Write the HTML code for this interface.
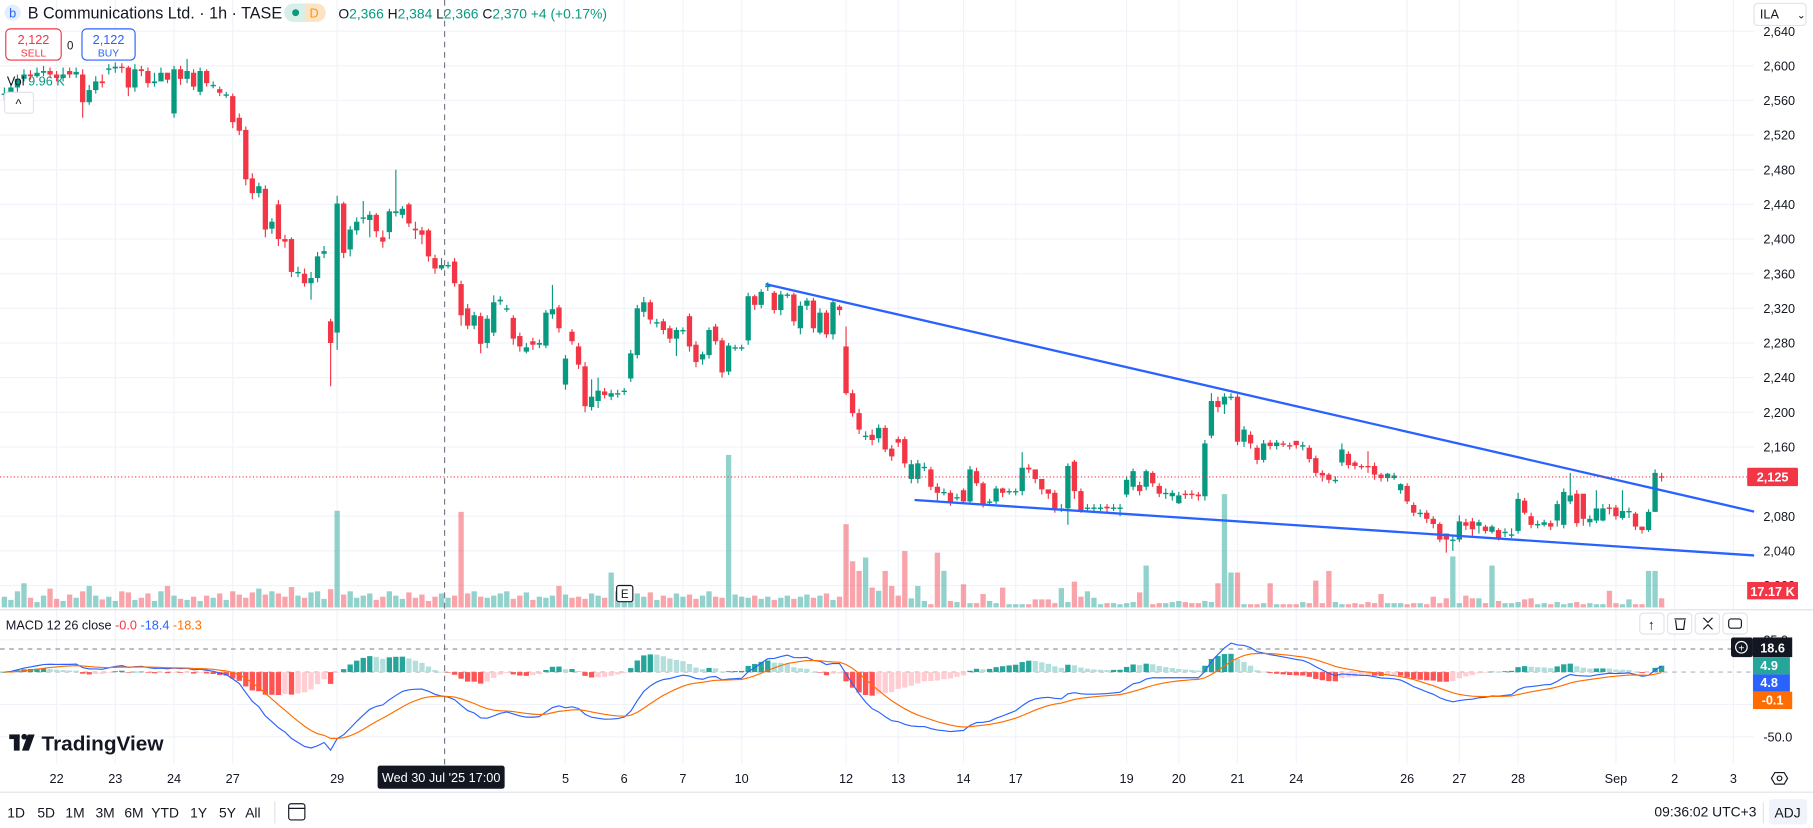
<!DOCTYPE html>
<html><head><meta charset="utf-8">
<style>
html,body{margin:0;padding:0;background:#fff;}
svg{display:block;font-family:"Liberation Sans",Arial,sans-serif;}
</style></head>
<body>
<svg id="chart" width="1813" height="828" viewBox="0 0 1570 717" preserveAspectRatio="none" xmlns="http://www.w3.org/2000/svg">
<rect x="0" y="0" width="1570" height="717" fill="#fff"/>
<g id="grid"></g>
<g id="vol"></g>
<g id="candles"></g>
<g id="macd"></g>
<g id="overlay"></g>
</svg>
<script>
// ---------- DATA ----------
const opens = [2568,2568,2575,2585,2590,2588,2592,2594,2590,2586,
2594,2590,2590,2558,2572,2582,
2597,2597,2599,2598,2575,2596,2594,2580,2582,2592,
2545,2596,2585,2592,2570,2594,2578,2573,2567,
2565,2540,2526,2470,2453,2458,2412,2440,2400,2400,2362,
2360,2349,2355,2383,2305,2292,2441,2388,2410,2424,
2422,2428,2402,2408,2430,2428,2440,2412,2410,2410,
2378,2366,2370,2374,2348,2320,2300,2311,2280,2292,
2328,2320,2309,2288,2270,2282,2278,2277,2313,2321,
2232,2293,2276,2253,2206,2213,2224,2218,2222,2225,
2239,2266,2316,2327,2304,2305,2297,2285,2295,2311,
2278,2261,2266,2299,2283,2247,2275,2275,2283,2334,
2324,2346,2338,2318,2336,2336,2297,2323,2329,2292,2315,2290,2322,
2276,2222,2199,2173,2174,2170,2182,2158,2169,2169,
2123,2123,2137,2134,2114,2108,2107,2102,2110,2097,
2132,2118,2097,2097,2112,2109,2109,2109,2136,2134,
2123,2111,2107,2089,2089,2143,2109,2090,2090,2090,
2091,2090,2090,2105,2114,2116,2114,2130,2115,2106,
2103,2095,2106,2106,2105,2103,2173,2213,2209,2218,
2218,2166,2174,2159,2145,2165,2161,2164,2162,2167,
2162,2159,2147,2130,2128,2122,2142,2152,2142,2138,
2138,2138,2128,2124,2124,2110,2115,2093,2084,2084,
2077,2071,2060,2053,2053,2073,2074,2069,2068,2062,
2064,2062,2059,2063,2098,2080,2071,2070,2072,2075,
2070,2097,2106,2106,2073,2075,2075,2090,2090,2078,
2086,2083,2068,2064,2085,2126];
const closes = [2568,2575,2585,2590,2588,2592,2594,2590,2586,2590,
2590,2593,2558,2572,2582,2580,
2597,2599,2598,2575,2596,2594,2580,2582,2592,2584,
2596,2585,2594,2576,2594,2580,2578,2569,2567,
2535,2525,2469,2453,2461,2411,2420,2400,2397,2362,2362,
2349,2355,2380,2386,2280,2441,2384,2411,2420,2425,
2428,2409,2397,2432,2432,2435,2418,2410,2405,2380,
2366,2370,2370,2349,2312,2300,2312,2279,2308,2327,
2330,2320,2285,2276,2275,2278,2280,2315,2319,2297,
2262,2282,2255,2207,2218,2225,2220,2222,2222,2225,
2268,2320,2327,2307,2304,2295,2285,2295,2295,2276,
2258,2267,2295,2282,2246,2277,2275,2275,2334,2324,
2339,2346,2318,2336,2336,2305,2323,2329,2297,2315,2290,2327,2318,
2222,2199,2180,2173,2168,2182,2157,2149,2165,2141,
2140,2141,2137,2114,2107,2108,2096,2102,2097,2134,
2118,2093,2097,2112,2107,2109,2109,2136,2134,2123,
2111,2106,2089,2089,2138,2109,2087,2090,2090,2090,
2089,2090,2090,2122,2132,2109,2132,2118,2106,2107,
2107,2104,2105,2105,2103,2164,2213,2206,2218,2218,
2166,2180,2164,2145,2164,2161,2165,2163,2161,2162,
2162,2146,2130,2127,2122,2122,2157,2139,2138,2137,
2137,2128,2124,2129,2127,2117,2097,2084,2084,2077,
2071,2053,2053,2053,2074,2069,2065,2073,2063,2068,
2055,2062,2059,2100,2084,2070,2071,2073,2068,2094,
2108,2104,2072,2077,2077,2089,2089,2089,2080,2086,
2086,2068,2064,2085,2130,2125];
const highs = [2575,2580,2590,2596,2595,2598,2600,2598,2594,2598,
2598,2598,2596,2578,2588,2590,
2602,2604,2603,2600,2602,2600,2598,2592,2598,2592,
2600,2600,2608,2596,2598,2596,2582,2576,2570,
2568,2545,2530,2476,2465,2462,2424,2445,2405,2402,2368,
2366,2362,2385,2392,2308,2450,2443,2415,2425,2444,
2432,2430,2410,2435,2480,2438,2442,2420,2414,2412,
2382,2378,2374,2378,2352,2325,2316,2315,2312,2335,
2334,2324,2312,2292,2280,2286,2284,2318,2347,2324,
2266,2296,2280,2258,2238,2240,2228,2226,2226,2228,
2272,2324,2333,2330,2308,2308,2300,2298,2298,2314,
2282,2270,2298,2302,2286,2280,2278,2278,2338,2336,
2342,2350,2340,2340,2338,2338,2328,2332,2332,2320,2318,2330,2324,
2299,2226,2204,2178,2180,2186,2185,2162,2172,2172,
2145,2145,2142,2137,2118,2112,2110,2106,2112,2138,
2136,2120,2100,2115,2113,2112,2112,2154,2140,2126,
2114,2110,2110,2094,2141,2145,2112,2094,2094,2094,
2094,2094,2094,2126,2135,2120,2134,2132,2118,2112,
2110,2108,2110,2110,2108,2168,2222,2218,2222,2222,
2221,2184,2178,2162,2168,2168,2168,2167,2165,2167,
2166,2162,2150,2133,2130,2126,2164,2155,2144,2140,
2155,2142,2130,2130,2130,2118,2118,2096,2088,2087,
2080,2073,2057,2057,2081,2077,2078,2076,2070,2070,
2066,2066,2066,2107,2101,2084,2075,2076,2075,2098,
2112,2130,2110,2080,2081,2110,2094,2094,2093,2110,
2090,2085,2068,2088,2134,2130];
const lows = [2560,2565,2570,2582,2584,2586,2588,2586,2582,2582,
2586,2586,2540,2555,2568,2575,
2590,2592,2592,2565,2570,2588,2575,2576,2586,2580,
2540,2578,2580,2572,2566,2576,2574,2565,2563,
2528,2520,2462,2446,2448,2402,2406,2392,2390,2356,2356,
2345,2330,2350,2378,2230,2272,2378,2380,2405,2418,
2402,2402,2390,2400,2426,2424,2414,2400,2394,2374,
2360,2364,2366,2345,2300,2296,2296,2268,2274,2288,
2324,2316,2278,2270,2268,2272,2274,2274,2308,2292,
2226,2278,2250,2200,2202,2205,2216,2214,2217,2220,
2235,2262,2310,2302,2298,2290,2280,2265,2290,2270,
2252,2255,2262,2278,2240,2243,2271,2271,2278,2318,
2320,2340,2314,2312,2332,2300,2290,2318,2292,2290,2286,2284,2312,
2220,2195,2175,2168,2162,2165,2154,2144,2160,2136,
2118,2118,2132,2110,2098,2104,2092,2098,2094,2094,
2115,2090,2092,2094,2102,2105,2104,2104,2130,2118,
2105,2100,2084,2085,2070,2100,2084,2086,2086,2086,
2085,2086,2080,2102,2110,2104,2110,2114,2102,2100,
2098,2094,2100,2100,2098,2098,2170,2200,2198,2214,
2162,2160,2158,2140,2142,2157,2157,2160,2157,2158,
2156,2142,2126,2120,2118,2118,2138,2135,2134,2134,
2130,2122,2120,2120,2122,2106,2094,2080,2079,2072,
2066,2050,2038,2040,2050,2064,2055,2060,2060,2060,
2052,2056,2055,2060,2082,2066,2066,2068,2064,2068,
2066,2094,2068,2069,2068,2072,2074,2082,2076,2076,
2078,2064,2060,2062,2085,2120];
const volumes = [20,14,30,45,18,10,22,35,16,12,
24,18,30,40,22,15,20,12,30,28,
14,18,26,12,30,40,22,16,14,20,
12,22,18,26,14,30,24,18,28,35,
24,30,26,20,38,22,18,28,30,16,
34,180,24,30,18,22,26,14,20,30,
22,16,28,18,24,12,20,26,18,22,
178,26,30,20,18,22,26,30,16,22,
28,14,20,18,22,40,24,18,20,16,
26,22,18,65,30,22,18,26,20,28,
14,22,18,26,20,24,16,22,30,20,
18,284,24,20,18,22,16,20,14,18,
22,16,20,24,18,22,26,14,20,
155,86,68,93,37,31,68,40,22,105,
17,40,12,6,102,68,12,10,43,8,
8,25,12,8,37,6,6,6,6,15,
15,15,8,36,10,48,20,30,18,6,
8,8,6,8,10,28,78,6,8,8,
10,12,10,8,8,12,10,45,211,65,
65,6,6,6,8,45,6,6,6,6,
10,8,50,8,68,10,6,6,8,6,
10,8,25,8,8,8,6,8,8,6,
20,8,17,95,8,22,17,17,8,78,
12,8,8,10,15,17,6,8,6,10,
6,8,10,6,8,6,6,31,8,6,
15,6,6,68,68,17];
const priceTicks = [2640,2600,2560,2520,2480,2440,2400,2360,2320,2280,2240,2200,2160,2080,2040,2000];
const macdTicks = [25.0,-50.0];
const dayLabels = ["22","23","24","27","29","5","6","7","10","12","13","14","17","19","20","21","24","26","27","28","Sep","2","3"];
const dayIndex = [8,17,26,35,51,86,95,104,113,129,137,147,155,172,180,189,198,215,223,232,247,256,265];
const timeFrames = ["1D","5D","1M","3M","6M","YTD","1Y","5Y","All"];

// ---------- SCALES ----------
const NS="http://www.w3.org/2000/svg";
const X0=3.8, STEP=5.65, PANE_R=1519;
function xOf(i){return X0+i*STEP;}
function yP(p){return 357+(2200-p)*0.75;}
function yV(v){return 526-v*0.465;}
function yM(m){return 582-m*1.12;}
function mk(tag,attrs,parent){const e=document.createElementNS(NS,tag);for(const k in attrs)e.setAttribute(k,attrs[k]);(parent||document.getElementById('overlay')).appendChild(e);return e;}
function txt(s,x,y,attrs,parent){const e=mk('text',Object.assign({x:x,y:y},attrs),parent);e.textContent=s;return e;}

const grid=document.getElementById('grid');
priceTicks.forEach(p=>{
  const y=yP(p);
  const l=mk('line',{x1:0,x2:PANE_R,y1:y,y2:y,stroke:'#f0f3fa','stroke-width':1},grid);
  
  
  const t=txt(p.toLocaleString('en-US'),1527,y+4,{'font-size':11,fill:'#131722'},grid);
  
  
});
dayLabels.forEach((d,k)=>{
  const x=xOf(dayIndex[k]);
  const l=mk('line',{x1:x,x2:x,y1:0,y2:661,stroke:'#f0f3fa','stroke-width':1},grid);
  
  
  const t=txt(d,x,678,{'font-size':11,fill:'#131722','text-anchor':'middle'},grid);
  
  
});
[554,610,638].forEach(y=>{mk('line',{x1:0,x2:PANE_R,y1:y,y2:y,stroke:'#f0f3fa'},grid);});
macdTicks.forEach(m=>{
  const t=txt(m.toFixed(1),1527,yM(m)+4,{'font-size':11,fill:'#131722'},grid);
  
  
});

const vg=document.getElementById('vol');
volumes.forEach((v,i)=>{
  const up=closes[i]>=opens[i];
  const r=mk('rect',{x:xOf(i)-2.3,y:yV(v),width:4.6,height:526-yV(v),fill:up?'rgba(38,166,154,0.5)':'rgba(242,54,69,0.45)'},vg);
  
  
});

const cg=document.getElementById('candles');
closes.forEach((c,i)=>{
  const o=opens[i], up=c>=o, col=up?'#089981':'#f23645', x=xOf(i);
  const g=mk('g',{},cg);
  
  
  mk('line',{x1:x,x2:x,y1:yP(highs[i]),y2:yP(lows[i]),stroke:col,'stroke-width':1},g);
  const top=yP(Math.max(o,c)), h=Math.max(1.2,Math.abs(yP(o)-yP(c)));
  mk('rect',{x:x-2.3,y:top,width:4.6,height:h,fill:col},g);
});

function ema(arr,n){const k=2/(n+1);const out=[];let e=arr[0];arr.forEach((v,i)=>{e=i===0?v:v*k+e*(1-k);out.push(e);});return out;}
const e12=ema(closes,12), e26=ema(closes,26);
const macd=closes.map((_,i)=>e12[i]-e26[i]);
const sig=ema(macd,9);
const hist=macd.map((m,i)=>m-sig[i]);
const mg=document.getElementById('macd');
mk('line',{x1:0,x2:PANE_R,y1:yM(0),y2:yM(0),stroke:'#b2b5be','stroke-dasharray':'4 4'},mg);
mk('line',{x1:0,x2:PANE_R,y1:562,y2:562,stroke:'#9598a1','stroke-dasharray':'4 4'},mg);
hist.forEach((h,i)=>{
  const prev=i>0?hist[i-1]:0;
  let col;
  if(h>=0) col=h>=prev?'#26a69a':'#b2dfdb'; else col=h<prev?'#ff5252':'#ffcdd2';
  const y1=yM(Math.max(h,0)), y2=yM(Math.min(h,0));
  const r=mk('rect',{x:xOf(i)-2.3,y:y1,width:4.6,height:Math.max(0.5,y2-y1),fill:col},mg);
  
  
});
function path(arr){return arr.map((v,i)=>(i?'L':'M')+xOf(i).toFixed(1)+' '+yM(v).toFixed(1)).join(' ');}
const ml=mk('path',{d:path(macd),fill:'none',stroke:'#2962ff','stroke-width':1},mg);


const sl=mk('path',{d:path(sig),fill:'none',stroke:'#ff6d00','stroke-width':1},mg);


</script>
<script>
(function(){
const ov=document.getElementById('overlay');
ov.innerHTML=`
<line x1="0" x2="1570" y1="528" y2="528" stroke="#e0e3eb"/>
<line x1="0" x2="1570" y1="686" y2="686" stroke="#e0e3eb"/>
<line x1="663" y1="246" x2="1519" y2="443" stroke="#2962ff" stroke-width="2"/>
<line x1="792" y1="433" x2="1519" y2="481" stroke="#2962ff" stroke-width="2"/>
<line x1="0" x2="1519" y1="413" y2="413" stroke="#f23645" stroke-dasharray="1 2"/>
<rect x="1513" y="405" width="44" height="16" fill="#f23645" rx="1"/>
<text x="1535" y="417" font-size="11" fill="#fff" text-anchor="middle" font-weight="bold">2,125</text>
<rect x="1513" y="504" width="44" height="15" fill="#f23645"/>
<text x="1535" y="516" font-size="11" fill="#fff" text-anchor="middle" font-weight="bold">17.17 K</text>
<line x1="385" x2="385" y1="0" y2="662" stroke="#787b86" stroke-dasharray="5 4"/>
<rect x="327" y="663" width="110" height="20" fill="#131722" rx="2"/>
<text x="382" y="677" font-size="11" fill="#fff" text-anchor="middle">Wed 30 Jul '25   17:00</text>
<rect x="534" y="507" width="14" height="14" fill="#fff" stroke="#131722" rx="2"/>
<text x="541" y="518" font-size="10" fill="#131722" text-anchor="middle">E</text>
<g>
<circle cx="11" cy="11" r="7" fill="#e3effd"/>
<text x="11" y="15" font-size="11" fill="#2962ff" text-anchor="middle">b</text>
<text x="24" y="16" font-size="14" fill="#131722">B Communications Ltd. · 1h · TASE</text>
<rect x="246" y="3" width="36" height="16" rx="8" fill="#d7efe9"/>
<rect x="264" y="3" width="18" height="16" rx="8" fill="#fde3c6"/>
<rect x="264" y="3" width="8" height="16" fill="#fde3c6"/>
<circle cx="256" cy="11" r="3" fill="#089981"/>
<text x="272" y="15" font-size="11" fill="#ff9800" text-anchor="middle">D</text>
<text x="293" y="16" font-size="12" fill="#131722">O<tspan fill="#089981">2,366</tspan> H<tspan fill="#089981">2,384</tspan> L<tspan fill="#089981">2,366</tspan> C<tspan fill="#089981">2,370 +4 (+0.17%)</tspan></text>
</g>
<g>
<rect x="5" y="25" width="48" height="27" rx="4" fill="#fff" stroke="#f23645"/>
<text x="29" y="38" font-size="11" fill="#f23645" text-anchor="middle">2,122</text>
<text x="29" y="49" font-size="9" fill="#f23645" text-anchor="middle">SELL</text>
</g>
<text x="58" y="43" font-size="10" fill="#131722">0</text>
<g>
<rect x="71" y="25" width="46" height="27" rx="4" fill="#fff" stroke="#2962ff"/>
<text x="94" y="38" font-size="11" fill="#2962ff" text-anchor="middle">2,122</text>
<text x="94" y="49" font-size="9" fill="#2962ff" text-anchor="middle">BUY</text>
</g>
<text x="6" y="74" font-size="11" fill="#131722">Vol <tspan fill="#089981">9.96 K</tspan></text>
<rect x="4" y="80" width="25" height="18" rx="2" fill="#fff" stroke="#e0e3eb"/>
<text x="16" y="94" font-size="11" fill="#131722" text-anchor="middle">^</text>
<text x="5" y="545" font-size="11" fill="#131722">MACD 12 26 close <tspan fill="#f23645">-0.0</tspan> <tspan fill="#2962ff">-18.4</tspan> <tspan fill="#ff6d00">-18.3</tspan></text>
<g>
<rect x="8" y="636" width="9" height="4" fill="#131722"/>
<rect x="12" y="636" width="5" height="14" fill="#131722"/>
<circle cx="21" cy="638" r="2.5" fill="#131722"/>
<polygon points="24,636 30,636 25,650 19,650" fill="#131722"/>
<text x="36" y="650" font-size="18" font-weight="bold" fill="#131722">TradingView</text>
</g>
<g>
<rect x="1420" y="531" width="21" height="18" rx="3" fill="#fff" stroke="#e0e3eb"/><text x="1430" y="545" font-size="12" text-anchor="middle" fill="#131722">↑</text>
<rect x="1444" y="531" width="21" height="18" rx="3" fill="#fff" stroke="#e0e3eb"/><path d="M1450 536 h10 M1451 537 l1 8 h6 l1 -8" fill="none" stroke="#131722"/>
<rect x="1468" y="531" width="21" height="18" rx="3" fill="#fff" stroke="#e0e3eb"/><path d="M1475 535 l4 4 l4 -4 M1475 545 l4 -4 l4 4" fill="none" stroke="#131722"/>
<rect x="1492" y="531" width="21" height="18" rx="3" fill="#fff" stroke="#e0e3eb"/><rect x="1497" y="536" width="11" height="8" rx="2" fill="none" stroke="#131722"/>
</g>
<rect x="1499" y="552" width="19" height="17" rx="2" fill="#131722"/>
<circle cx="1508" cy="560.5" r="5" fill="none" stroke="#fff"/><text x="1508" y="564" font-size="9" fill="#fff" text-anchor="middle">+</text>
<rect x="1518" y="552" width="34" height="17" fill="#131722"/>
<text x="1535" y="565" font-size="11" fill="#fff" text-anchor="middle" font-weight="bold">18.6</text>
<rect x="1518" y="569" width="32" height="15" fill="#26a69a"/>
<text x="1532" y="580" font-size="11" fill="#fff" text-anchor="middle" font-weight="bold">4.9</text>
<rect x="1518" y="584" width="32" height="15" fill="#2962ff"/>
<text x="1532" y="595" font-size="11" fill="#fff" text-anchor="middle" font-weight="bold">4.8</text>
<rect x="1518" y="599" width="34" height="15" fill="#ff6d00"/>
<text x="1535" y="610" font-size="11" fill="#fff" text-anchor="middle" font-weight="bold">-0.1</text>
<g>
<rect x="1519" y="3" width="45" height="19" rx="3" fill="#fff" stroke="#e0e3eb"/>
<text x="1524" y="16" font-size="11" fill="#131722">ILA</text><text x="1556" y="16" font-size="9" fill="#131722">⌄</text>
</g>
<g><polygon points="1534,674 1537,669 1545,669 1548,674 1545,679 1537,679" fill="none" stroke="#131722"/><circle cx="1541" cy="674" r="2" fill="none" stroke="#131722"/></g>
<text x="1521" y="707" font-size="12" fill="#131722" text-anchor="end">09:36:02 UTC+3</text>
<line x1="1527" x2="1527" y1="695" y2="713" stroke="#e0e3eb"/>
<rect x="1532" y="692" width="33" height="22" rx="3" fill="#f0f3fa"/>
<text x="1548" y="708" font-size="12" fill="#131722" text-anchor="middle">ADJ</text>
<line x1="238" x2="238" y1="694" y2="713" stroke="#e0e3eb"/>
<g><rect x="250" y="696" width="14" height="14" rx="2" fill="none" stroke="#131722"/><line x1="250" x2="264" y1="700" y2="700" stroke="#131722"/></g>
`;
const tfx=[14,40,65,91,116,143,172,197,219];
timeFrames.forEach((t,k)=>{
  const e=document.createElementNS("http://www.w3.org/2000/svg",'text');
  e.setAttribute('x',tfx[k]);e.setAttribute('y',708);e.setAttribute('font-size',12);e.setAttribute('fill','#131722');e.setAttribute('text-anchor','middle');
  
  
  e.textContent=t;ov.appendChild(e);
});
})();
</script>
</body></html>
